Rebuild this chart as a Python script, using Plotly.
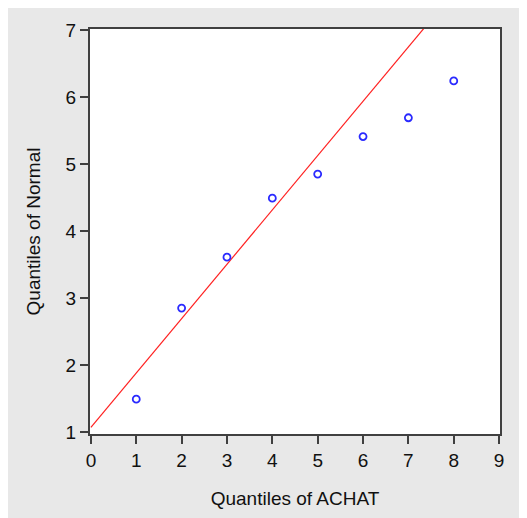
import plotly.graph_objects as go

# Data
achat_quantiles = [1, 2, 3, 4, 5, 6, 7, 8]
normal_quantiles = [1.49, 2.85, 3.61, 4.49, 4.85, 5.41, 5.69, 6.24]

# Reference line (intercept / slope)
line_intercept = 1.07
line_slope = 0.811
line_x = [0, 9]
line_y = [line_intercept + line_slope * v for v in line_x]

x_ticks = [0, 1, 2, 3, 4, 5, 6, 7, 8, 9]
y_ticks = [1, 2, 3, 4, 5, 6, 7]

# page has an 8px body margin, so the figure is sized to fit the window
W, H = 519, 510
L, R, T, B = 82, 27, 18, 82

font_family = "Liberation Sans, Arial, sans-serif"
frame_color = "#404040"
bg_gray = "#e8e8e8"
text_color = "#111111"

fig = go.Figure()
fig.add_trace(go.Scatter(
    x=line_x, y=line_y, mode="lines",
    line=dict(color="#ff2020", width=1.2),
    hoverinfo="skip", showlegend=False,
))
fig.add_trace(go.Scatter(
    x=achat_quantiles, y=normal_quantiles, mode="markers",
    marker=dict(symbol="circle-open", size=7, color="#2a2aff",
                line=dict(width=1.8, color="#2a2aff")),
    showlegend=False,
))

axis_common = dict(
    showgrid=False, zeroline=False, showline=True, mirror=True,
    linecolor=frame_color, linewidth=2,
    ticks="outside", ticklen=8, tickwidth=2, tickcolor=frame_color,
    tickfont=dict(family=font_family, size=19, color=text_color),
)

fig.update_layout(
    width=W, height=H,
    margin=dict(l=L, r=R, t=T, b=B, pad=0),
    paper_bgcolor=bg_gray, plot_bgcolor="white",
    xaxis=dict(range=[-0.02, 9.02], tickvals=x_ticks,
               title=dict(text="Quantiles of ACHAT", standoff=22,
                          font=dict(family=font_family, size=19, color=text_color)),
               **axis_common),
    yaxis=dict(range=[0.97, 7.015], tickvals=y_ticks,
               title=dict(text="Quantiles of Normal", standoff=20,
                          font=dict(family=font_family, size=19, color=text_color)),
               **axis_common),
)

fig.write_html("out.html")
